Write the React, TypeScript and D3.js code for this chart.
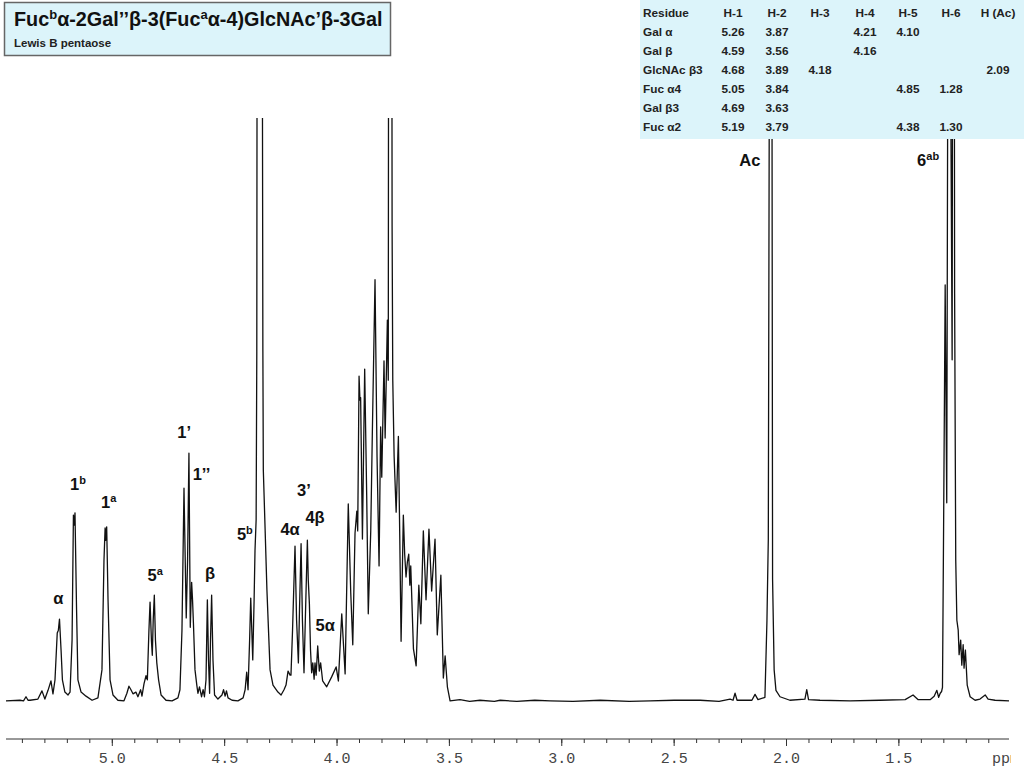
import React from "react"
import * as d3 from "d3"

// 1H NMR trace: [chemical shift (ppm), intensity (% of plot height)]
const spectrum: [number, number][] = [
	[5.473, 0.2], [5.411, 0.3], [5.395, 0.2], [5.384, 0.9], [5.375, 0.3], [5.366, 0.3], [5.331, 0.5],
	[5.313, 1.9], [5.3, 0.5], [5.286, 2.0], [5.273, 3.6], [5.264, 1.4], [5.255, 3.8], [5.245, 11.8],
	[5.24, 12.3], [5.235, 14.2], [5.228, 8.9], [5.222, 3.8], [5.211, 1.7], [5.197, 1.2], [5.188, 1.7],
	[5.179, 10.6], [5.173, 32.0], [5.169, 30.3], [5.166, 32.4], [5.159, 15.8], [5.153, 3.8], [5.139, 1.7],
	[5.117, 1.0], [5.09, 0.3], [5.064, 0.7], [5.046, 5.5], [5.037, 24.3], [5.032, 29.8], [5.029, 27.7],
	[5.025, 30.0], [5.019, 17.5], [5.01, 3.8], [4.997, 1.2], [4.975, 0.3], [4.948, 0.2], [4.935, 1.5],
	[4.926, 2.7], [4.917, 2.1], [4.908, 1.4], [4.895, 1.7], [4.886, 0.9], [4.874, 2.1], [4.868, 1.0],
	[4.859, 3.1], [4.85, 4.5], [4.844, 3.8], [4.837, 12.3], [4.832, 17.1], [4.826, 10.6], [4.822, 8.0],
	[4.818, 14.0], [4.813, 18.3], [4.808, 10.6], [4.802, 6.7], [4.794, 3.8], [4.783, 1.2], [4.761, 0.3],
	[4.734, 0.2], [4.708, 0.7], [4.699, 2.1], [4.69, 12.3], [4.681, 36.6], [4.674, 20.9], [4.671, 14.4],
	[4.665, 24.3], [4.659, 42.6], [4.653, 12.8], [4.647, 20.5], [4.643, 17.5], [4.639, 13.5], [4.632, 5.5],
	[4.624, 2.9], [4.619, 1.5], [4.612, 2.6], [4.603, 0.9], [4.596, 2.1], [4.59, 0.9], [4.583, 3.8],
	[4.577, 17.5], [4.572, 7.2], [4.567, 1.5], [4.563, 10.6], [4.558, 18.3], [4.552, 7.2], [4.545, 1.2],
	[4.53, 0.5], [4.512, 1.2], [4.505, 2.1], [4.498, 1.0], [4.492, 1.9], [4.485, 0.7], [4.467, 0.3],
	[4.441, 0.2], [4.418, 0.7], [4.409, 2.1], [4.402, 5.1], [4.396, 2.1], [4.389, 10.6], [4.384, 17.8],
	[4.375, 7.2], [4.369, 17.5], [4.365, 26.0], [4.36, 31.2], [4.357, 60], [4.354, 200], [4.349, 400],
	[4.338, 400], [4.334, 150], [4.33, 60], [4.328, 39.7], [4.32, 29.5], [4.312, 19.2], [4.298, 5.5],
	[4.285, 2.9], [4.263, 1.7], [4.249, 1.2], [4.236, 2.1], [4.227, 2.9], [4.218, 5.3], [4.209, 4.6],
	[4.205, 4.6], [4.198, 12.3], [4.187, 26.7], [4.18, 14.0], [4.172, 6.7], [4.167, 15.8], [4.16, 27.1],
	[4.154, 14.0], [4.147, 5.0], [4.14, 15.8], [4.132, 27.7], [4.128, 20.9], [4.123, 16.8], [4.118, 8.9],
	[4.113, 5.0], [4.108, 6.7], [4.102, 3.9], [4.098, 6.7], [4.093, 4.6], [4.086, 9.6], [4.079, 5.3],
	[4.073, 6.7], [4.064, 3.6], [4.046, 2.6], [4.024, 4.3], [4.004, 6.0], [3.994, 3.6], [3.979, 15.1],
	[3.964, 4.8], [3.95, 33.9], [3.939, 18.7], [3.93, 9.8], [3.92, 28.9], [3.912, 32.7], [3.908, 29.3],
	[3.902, 55.8], [3.898, 51.7], [3.895, 52.1], [3.887, 27.9], [3.877, 57.0], [3.868, 35.3], [3.861, 15.1],
	[3.85, 29.3], [3.843, 45.9], [3.831, 72.3], [3.822, 42.0], [3.813, 23.3], [3.806, 47.1], [3.801, 38.5],
	[3.791, 58.4], [3.786, 45.2], [3.776, 65.4], [3.772, 55.1], [3.767, 300], [3.761, 300], [3.755, 81.5],
	[3.752, 55.1], [3.746, 42.1], [3.737, 32.5], [3.727, 45.5], [3.721, 28.6], [3.715, 10.4], [3.705, 32.0],
	[3.699, 25.3], [3.693, 21.4], [3.687, 24.0], [3.681, 25.3], [3.676, 20.0], [3.672, 23.3], [3.66, 9.1],
	[3.648, 6.2], [3.636, 20.0], [3.627, 13.4], [3.616, 29.3], [3.604, 17.5], [3.591, 29.6], [3.579, 19.0],
	[3.564, 27.9], [3.554, 11.5], [3.538, 21.7], [3.527, 4.1], [3.519, 7.9], [3.509, 2.6], [3.497, 0.2],
	[3.453, 0.4], [3.41, 0.1], [3.364, 0.3], [3.3, 0.1], [3.274, 0.3], [3.2, 0.1], [3.12, 0.3], [3.052, 0.2],
	[2.95, 0.1], [2.829, 0.3], [2.7, 0.1], [2.607, 0.2], [2.5, 0.3], [2.384, 0.3], [2.3, 0.1], [2.251, 0.5],
	[2.238, 0.3], [2.229, 1.5], [2.22, 0.3], [2.154, 0.3], [2.14, 1.3], [2.127, 0.4], [2.096, 0.8],
	[2.087, 14.0], [2.081, 27.9], [2.074, 150], [2.07, 320], [2.066, 150], [2.062, 21.0], [2.055, 5.5],
	[2.047, 2.0], [2.029, 0.9], [1.985, 0.3], [1.918, 0.5], [1.91, 2.1], [1.902, 0.4], [1.851, 0.3],
	[1.717, 0.2], [1.584, 0.3], [1.472, 0.4], [1.437, 1.2], [1.414, 0.4], [1.361, 0.4], [1.343, 1.0],
	[1.331, 2.0], [1.323, 0.8], [1.316, 1.5], [1.31, 1.8], [1.306, 2.5], [1.301, 30], [1.294, 71.4],
	[1.287, 34.1], [1.283, 100], [1.278, 250], [1.27, 110], [1.263, 58.6], [1.257, 250], [1.252, 70],
	[1.247, 24.3], [1.242, 14.0], [1.236, 12.3], [1.232, 8.1], [1.225, 10.6], [1.22, 6.3], [1.214, 9.8],
	[1.21, 5.8], [1.204, 8.9], [1.196, 2.9], [1.183, 0.9], [1.161, 0.3], [1.139, 0.5], [1.116, 1.2],
	[1.103, 0.5], [1.072, 0.3], [1.01, 0.2],
]

const majorTicks = [5.0, 4.5, 4.0, 3.5, 3.0, 2.5, 2.0, 1.5]
const minorTicks = d3.range(11, 55).map((d) => d / 10)

// peak assignments: [label, superscript, ppm, intensity of label centre]
const peakLabels: [string, string, number, number][] = [
	["α", "", 5.24, 17.8],
	["1", "b", 5.153, 37.3],
	["1", "a", 5.016, 34.2],
	["5", "a", 4.809, 21.7],
	["1’", "", 4.68, 46.2],
	["1’’", "", 4.603, 39.0],
	["β", "", 4.565, 22.1],
	["5", "b", 4.41, 28.8],
	["4α", "", 4.209, 29.6],
	["3’", "", 4.147, 36.3],
	["4β", "", 4.098, 31.7],
	["5α", "", 4.053, 13.2],
	["Ac", "", 2.163, 92.8],
	["6", "ab", 1.37, 92.8],
]

const tableHeader = ["Residue", "H-1", "H-2", "H-3", "H-4", "H-5", "H-6", "H (Ac)"]
const residues = ["Gal α", "Gal β", "GlcNAc β3", "Fuc α4", "Gal β3", "Fuc α2"]
const shifts = [
	["5.26", "3.87", "", "4.21", "4.10", "", ""],
	["4.59", "3.56", "", "4.16", "", "", ""],
	["4.68", "3.89", "4.18", "", "", "", "2.09"],
	["5.05", "3.84", "", "", "4.85", "1.28", ""],
	["4.69", "3.63", "", "", "", "", ""],
	["5.19", "3.79", "", "", "4.38", "1.30", ""],
]

const x = d3.scaleLinear().domain([5.473, 1.01]).range([6, 1009])
const y = d3.scaleLinear().domain([0, 100]).range([702, 118])

const line = d3
	.line<[number, number]>()
	.x((d) => x(d[0]))
	.y((d) => y(d[1]))

const colX = [643, 733, 777, 820, 865, 908, 951, 998]
const bold = "'Liberation Sans', Arial, sans-serif"

const App: React.FunctionComponent = () => {
	const axisY = 739
	return (
		<svg
			width={1024}
			height={768}
			style={{ position: "absolute", left: 0, top: 0, background: "#fff" }}
		>
			<defs>
				<clipPath id="plotClip">
					<rect x={0} y={118} width={1011} height={650} />
				</clipPath>
			</defs>

			<path
				d={line(spectrum) || ""}
				fill="none"
				stroke="#111"
				strokeWidth={1.3}
				strokeLinejoin="round"
				clipPath="url(#plotClip)"
			/>

			{/* axis */}
			<g clipPath="url(#plotClip)">
				<line x1={6} x2={1009} y1={axisY} y2={axisY} stroke="#333" strokeWidth={1} />
				{minorTicks.map((t) => (
					<line key={t} x1={x(t)} x2={x(t)} y1={axisY} y2={axisY + 4} stroke="#333" />
				))}
				{majorTicks.map((t) => (
					<line key={t} x1={x(t)} x2={x(t)} y1={axisY} y2={axisY + 7} stroke="#333" />
				))}
				{majorTicks.map((t) => (
					<text
						key={t}
						x={x(t)}
						y={763}
						textAnchor="middle"
						fontFamily="'Liberation Mono', 'Courier New', monospace"
						fontSize={15}
						fill="#444"
					>
						{t.toFixed(1)}
					</text>
				))}
				<text
					x={992}
					y={763}
					fontFamily="'Liberation Mono', 'Courier New', monospace"
					fontSize={15}
					fill="#444"
				>
					ppm
				</text>
			</g>

			{/* peak labels */}
			{peakLabels.map(([lab, sup, p, v], i) => (
				<text
					key={i}
					x={x(p)}
					y={y(v) + 6}
					textAnchor="middle"
					fontFamily={bold}
					fontWeight="bold"
					fontSize={16.5}
					fill="#111"
				>
					{lab}
					{sup && (
						<tspan dy={-6} fontSize={11}>
							{sup}
						</tspan>
					)}
				</text>
			))}

			{/* title box */}
			<rect x={4.5} y={2.5} width={386} height={53} fill="#dcf4fa" stroke="#666" strokeWidth={1.5} />
			<text x={14} y={26} fontFamily={bold} fontWeight="bold" fontSize={19.8} fill="#111">
				Fuc
				<tspan dy={-7} fontSize={13}>b</tspan>
				<tspan dy={7}>α-2Gal’’β-3(Fuc</tspan>
				<tspan dy={-7} fontSize={13}>a</tspan>
				<tspan dy={7}>α-4)GlcNAc’β-3Gal</tspan>
			</text>
			<text x={14} y={47} fontFamily={bold} fontWeight="bold" fontSize={11.5} fill="#222">
				Lewis B pentaose
			</text>

			{/* shift table */}
			<rect x={640} y={0} width={384} height={139} fill="#dcf4fa" />
			{tableHeader.map((h, i) => (
				<text
					key={h}
					x={colX[i]}
					y={16.5}
					textAnchor={i === 0 ? "start" : "middle"}
					fontFamily={bold}
					fontWeight="bold"
					fontSize={11.8}
					fill="#222"
				>
					{h}
				</text>
			))}
			{residues.map((r, ri) => (
				<g key={r}>
					<text
						x={colX[0]}
						y={35.5 + ri * 19}
						fontFamily={bold}
						fontWeight="bold"
						fontSize={11.8}
						fill="#222"
					>
						{r}
					</text>
					{shifts[ri].map((v, ci) =>
						v ? (
							<text
								key={ci}
								x={colX[ci + 1]}
								y={35.5 + ri * 19}
								textAnchor="middle"
								fontFamily={bold}
								fontWeight="bold"
								fontSize={11.8}
								fill="#222"
							>
								{v}
							</text>
						) : null
					)}
				</g>
			))}
		</svg>
	)
}

export default App
